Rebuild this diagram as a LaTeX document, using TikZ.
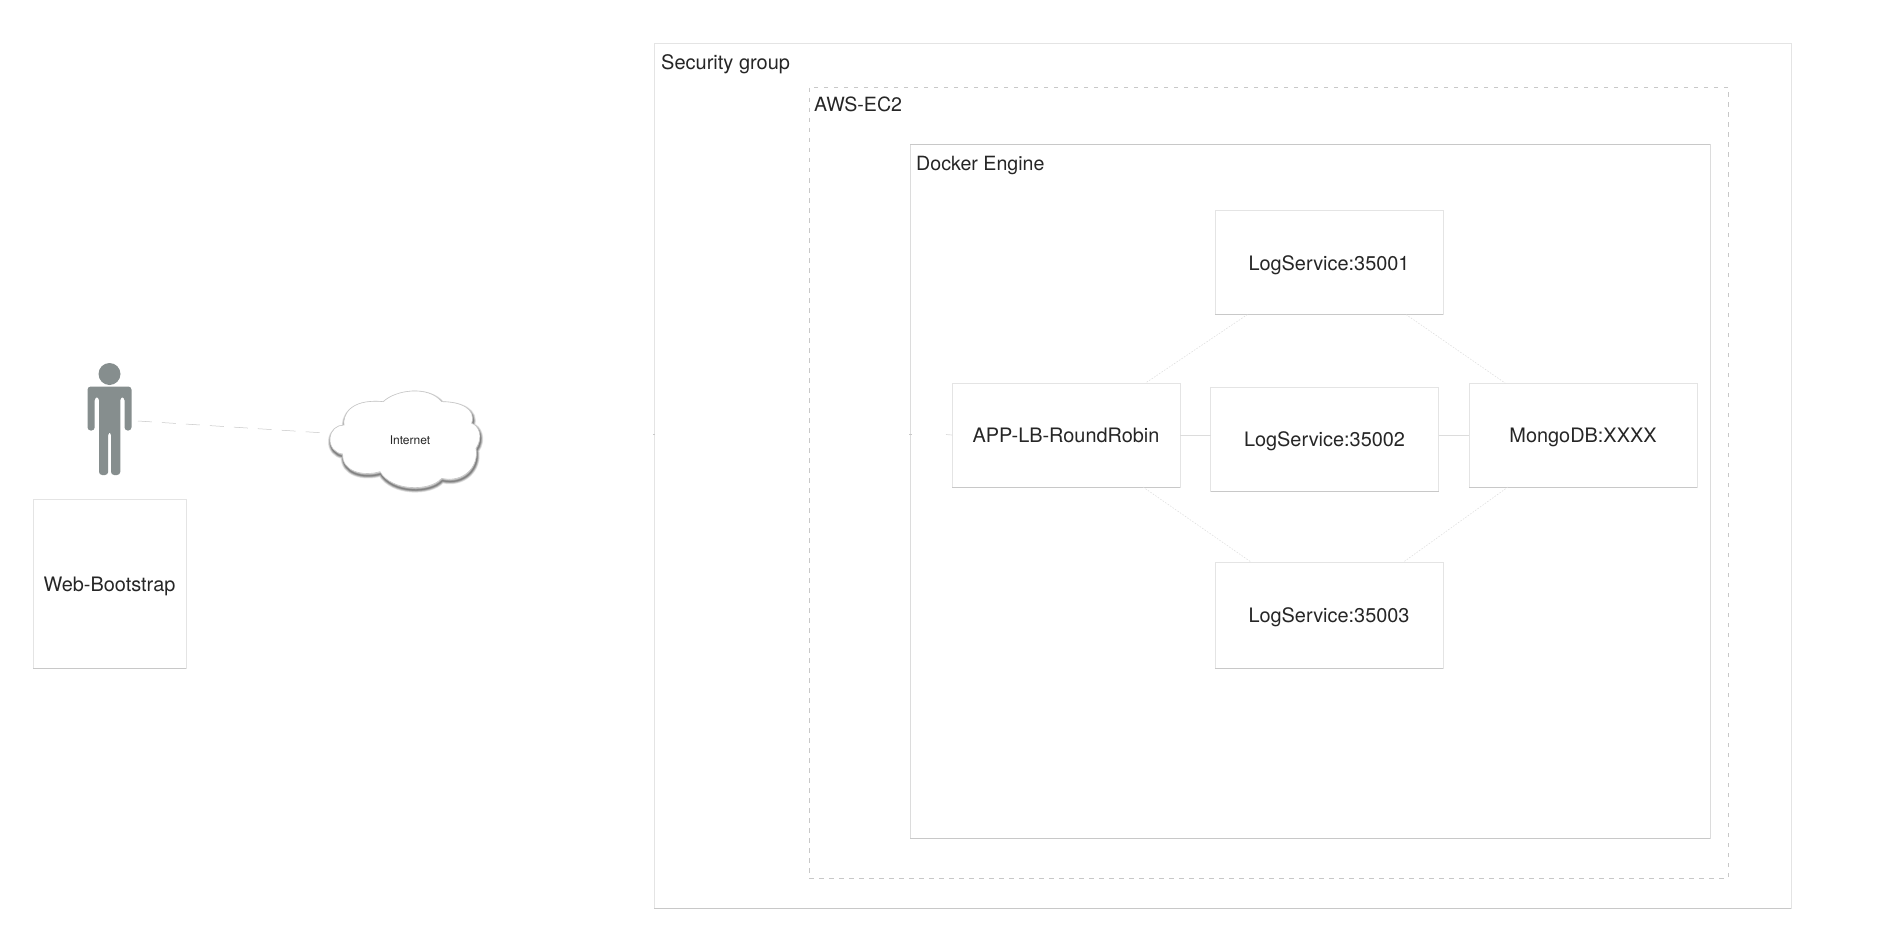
\documentclass[tikz,border=0pt]{standalone}
\usepackage{fontspec}
\setmainfont{TeX Gyre Heros}
\usetikzlibrary{calc}
\definecolor{edgeL}{HTML}{E4E4E4}
\definecolor{edgeD}{HTML}{C8C8C8}
\definecolor{edgeF}{HTML}{DCDCDC}
\definecolor{inkT}{HTML}{262626}
\definecolor{figG}{HTML}{868E8E}
\tikzset{
  x=1pt,y=-1pt,
  boxbase/.style={draw=edgeL,line width=1pt,rectangle,inner sep=0pt,outer sep=0pt,text=inkT,
    font=\fontsize{19.9}{23}\selectfont,text height=15pt,text depth=0pt},
  darkbottom/.style={append after command={
     (\tikzlastnode.south west) edge[draw=edgeD,line width=1pt] (\tikzlastnode.south east)}},
  darktop/.style={append after command={
     (\tikzlastnode.north west) edge[draw=edgeD,line width=1pt] (\tikzlastnode.north east)}},
  svcbox/.style={boxbase,darkbottom,minimum width=228pt,minimum height=104pt},
  groupbox/.style={boxbase,darkbottom,fill=none},
  dashbox/.style={boxbase,draw=edgeD,dash pattern=on 4.5pt off 5.5pt,line width=.9pt,fill=none},
  grouplabel/.style={anchor=west,inner sep=0pt,text=inkT,font=\fontsize{20}{24}\selectfont},
  faintlink/.style={draw=edgeF,line width=.5pt,dash pattern=on 1.5pt off 1.5pt},
  solidlink/.style={draw=edgeF,line width=.7pt},
  tick/.style={draw=edgeD,line width=1pt},
}
\def\cloudshape{(30,175)
  .. controls (32,150) and (50,135) .. (72,135)
  .. controls (68,110) and (85,55) .. (190,65)
  .. controls (225,30) and (325,15) .. (365,65)
  .. controls (420,65) and (470,85) .. (455,130)
  .. controls (475,135) and (492,170) .. (468,205)
  .. controls (478,260) and (430,310) .. (365,295)
  .. controls (330,335) and (215,335) .. (180,275)
  .. controls (130,290) and (65,275) .. (68,222)
  .. controls (45,220) and (28,200) .. (30,175) -- cycle}
\begin{document}
\begin{tikzpicture}
\useasboundingbox[fill=white] (0,0) rectangle (1878,928);

% containers
\node[groupbox,minimum width=1137pt,minimum height=864pt] (sg) at (1222.5,476) {};
\node[dashbox,minimum width=919pt,minimum height=791pt] (ec2) at (1268.5,482.5) {};
\node[groupbox,darktop,draw=edgeF,minimum width=800pt,minimum height=693pt] (docker) at (1310,491.5) {};
\node[grouplabel] (sglabel) at (661,64) {Security group};
\node[grouplabel,font=\fontsize{19.6}{24}\selectfont] (ec2label) at (814,104) {AWS-EC2};
\node[grouplabel,font=\fontsize{19.6}{24}\selectfont] (dockerlabel) at (916,165) {Docker Engine};

% services
\node[svcbox] (ls1) at (1329,262.5) {LogService:35001};
\node[svcbox] (app) at (1066,435) {APP-LB-RoundRobin};
\node[svcbox] (ls2) at (1324.5,439) {LogService:35002};
\node[svcbox] (mongo) at (1583,435) {MongoDB:XXXX};
\node[svcbox,minimum height=106pt] (ls3) at (1329,615) {LogService:35003};

% connectors
\draw[faintlink] ([xshift=-81.5pt]ls1.south) -- ([xshift=79.5pt]app.north);
\draw[faintlink] ([xshift=77pt]ls1.south) -- ([xshift=-78pt]mongo.north);
\draw[faintlink] ([xshift=77pt]app.south) -- ([xshift=-78pt]ls3.north);
\draw[faintlink] ([xshift=-75pt]mongo.south) -- ([xshift=74.5pt]ls3.north);
\draw[solidlink] (app.east) -- (ls2.west |- app.east);
\draw[solidlink] (ls2.east |- mongo.west) -- (mongo.west);

% small remains of the entry link
\coordinate (sgtickA) at (653,434.5);
\coordinate (sgtickB) at (655,434.5);
\coordinate (dtickA) at (909,434.5);
\coordinate (dtickB) at (912,434.5);
\coordinate (atick) at (946,434.5);
\draw[tick] (sgtickA) -- (sgtickB);
\draw[tick] (dtickA) -- (dtickB);
\draw[solidlink] (atick) -- (app.west);

% user
\node[boxbase,darkbottom,minimum width=153pt,minimum height=169pt] (web) at (109.5,583.5) {Web-Bootstrap};
\fill[figG] (109.5,374) circle[radius=11];
\fill[figG,rounded corners=3.2pt] (87.5,430.5) -- (87.5,386.5) -- (131.5,386.5) -- (131.5,430.5)
  -- (124.5,430.5) -- (124.5,397) -- (120.3,397) -- (120.3,475) -- (111,475) -- (111,432)
  -- (108.2,432) -- (108.2,475) -- (99,475) -- (99,397) -- (94.7,397) -- (94.7,430.5) -- cycle;

% cloud
\begin{scope}[shift={(320,380)},x=.3333pt,y=-.3333pt]
  \foreach \w in {16,13,10,8,6,4,2.5}{
    \draw[black,opacity=.09,line width=\w*.3333pt,line join=round] [shift={(2,7)}] \cloudshape;
  }
  \draw[fill=white,draw=gray!45,line width=.6pt] \cloudshape;
\end{scope}
\node[inner sep=0pt,text=inkT,font=\fontsize{12}{14}\selectfont] (internet) at (410,440) {Internet};
\coordinate (userhand) at (138,421);
\coordinate (cloudedge) at (325,433);
\draw[solidlink,draw=edgeD,line width=.5pt,dash pattern=on 14pt off 10pt] (userhand) -- (cloudedge);
\end{tikzpicture}
\end{document}
